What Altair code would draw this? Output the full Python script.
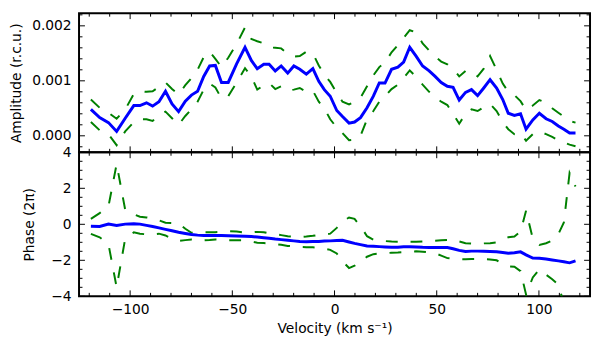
import altair as alt
import pandas as pd

# Velocity grid (km/s)
velocity = [-119.2, -114.9, -110.6, -106.6, -102.4, -98.2, -95.2, -92.0, -89.0, -85.9,
            -82.7, -79.5, -76.3, -73.0, -70.0, -67.0, -64.0, -61.1, -58.3, -55.3,
            -52.0, -47.9, -43.8, -40.7, -37.8, -34.6, -32.0, -29.0, -26.1, -22.9,
            -19.9, -17.0, -13.8, -10.6, -7.7, -5.0, -2.1, 1.1, 3.9, 7.1,
            9.8, 12.7, 15.9, 19.0, 21.9, 24.7, 27.9, 31.0, 33.8, 36.8,
            39.9, 43.1, 46.3, 49.2, 52.2, 55.2, 58.0, 61.0, 64.1, 67.0,
            70.0, 73.0, 76.1, 79.3, 82.3, 85.0, 88.0, 91.0, 93.7, 97.0,
            100.2, 103.5, 106.5, 109.5, 112.2, 115.0, 117.9]

# Amplitude in units of 1e-3 r.c.u.
amplitude_milli = [0.48, 0.33, 0.24, 0.08, 0.32, 0.55, 0.55, 0.60, 0.54, 0.62,
                   0.81, 0.58, 0.44, 0.63, 0.74, 0.81, 1.08, 1.27, 1.28, 0.97,
                   0.97, 1.31, 1.61, 1.37, 1.22, 1.30, 1.30, 1.18, 1.27, 1.14,
                   1.27, 1.21, 1.12, 1.22, 0.99, 0.84, 0.72, 0.46, 0.35, 0.23,
                   0.25, 0.33, 0.51, 0.72, 0.96, 0.96, 1.21, 1.25, 1.34, 1.61,
                   1.45, 1.27, 1.18, 1.08, 0.97, 0.90, 0.88, 0.65, 0.79, 0.84,
                   0.73, 0.87, 1.02, 0.87, 0.66, 0.41, 0.37, 0.40, 0.12, 0.29,
                   0.41, 0.31, 0.26, 0.18, 0.12, 0.05, 0.05]
amplitude_upper_milli = [0.66, 0.51, 0.42, 0.31, 0.48, 0.76, 0.81, 0.80, 0.81, 0.89,
                         0.97, 0.85, 0.75, 0.92, 1.05, 1.20, 1.43, 1.53, 1.40, 1.25,
                         1.42, 1.67, 1.97, 1.76, 1.72, 1.68, 1.61, 1.60, 1.59, 1.49,
                         1.44, 1.45, 1.53, 1.50, 1.28, 1.11, 0.98, 0.78, 0.62, 0.57,
                         0.62, 0.69, 0.90, 1.10, 1.25, 1.33, 1.52, 1.65, 1.78, 1.92,
                         1.88, 1.68, 1.55, 1.44, 1.35, 1.30, 1.22, 1.08, 1.18, 1.18,
                         1.08, 1.22, 1.45, 1.20, 0.95, 0.80, 0.74, 0.63, 0.47, 0.55,
                         0.65, 0.60, 0.50, 0.42, 0.35, 0.27, 0.24]
amplitude_lower_milli = [0.25, 0.10, 0.03, -0.17, 0.08, 0.25, 0.30, 0.30, 0.27, 0.38,
                         0.44, 0.32, 0.20, 0.36, 0.48, 0.62, 0.84, 0.95, 0.88, 0.68,
                         0.72, 0.97, 1.23, 1.08, 0.84, 0.92, 0.96, 0.85, 0.90, 0.82,
                         0.84, 0.87, 0.80, 0.82, 0.62, 0.50, 0.30, 0.15, 0.05, -0.08,
                         -0.07, 0.00, 0.30, 0.45, 0.62, 0.72, 0.85, 0.93, 1.05, 1.19,
                         1.07, 0.93, 0.80, 0.70, 0.62, 0.56, 0.40, 0.22, 0.40, 0.48,
                         0.45, 0.52, 0.58, 0.45, 0.25, 0.12, 0.03, 0.05, -0.09, 0.03,
                         0.08, 0.03, -0.02, -0.08, -0.12, -0.16, -0.19]

# Phase in units of 2*pi
phase = [-0.11, -0.12, 0.01, -0.06, 0.01, 0.03, 0.01, -0.06, -0.12, -0.20,
         -0.28, -0.36, -0.44, -0.51, -0.57, -0.60, -0.62, -0.62, -0.62, -0.62,
         -0.63, -0.65, -0.66, -0.68, -0.71, -0.75, -0.78, -0.82, -0.85, -0.89,
         -0.92, -0.95, -0.97, -0.96, -0.95, -0.93, -0.92, -0.90, -0.89, -0.98,
         -1.06, -1.13, -1.20, -1.22, -1.24, -1.26, -1.28, -1.27, -1.25, -1.25,
         -1.26, -1.28, -1.29, -1.29, -1.29, -1.29, -1.36, -1.45, -1.51, -1.49,
         -1.49, -1.50, -1.51, -1.53, -1.57, -1.61, -1.58, -1.53, -1.70, -1.88,
         -1.89, -1.93, -1.98, -2.03, -2.08, -2.14, -2.03]
phase_upper = [0.30, 0.62, 1.00, 3.35, 0.80, 0.55, 0.42, 0.38, 0.33, 0.22,
               0.09, 0.07, 0.06, -0.25, -0.47, -0.46, -0.44, -0.44, -0.44, -0.42,
               -0.38, -0.40, -0.46, -0.45, -0.42, -0.44, -0.50, -0.55, -0.60, -0.66,
               -0.69, -0.71, -0.68, -0.64, -0.59, -0.56, -0.52, -0.20, 0.15, 0.38,
               0.30, -0.10, -0.66, -0.85, -0.90, -0.93, -0.96, -0.97, -0.97, -0.97,
               -0.97, -0.95, -0.93, -0.91, -0.89, -0.87, -0.84, -0.95, -1.05, -1.07,
               -1.07, -1.06, -1.05, -1.01, -0.85, -0.72, -0.68, -0.40, 0.75, -0.80,
               -1.15, -1.05, -0.90, -0.55, 0.10, 2.85, 2.10]
phase_lower = [-0.53, -0.72, -1.10, -3.50, -0.78, -0.45, -0.52, -0.56, -0.56, -0.52,
               -0.62, -0.80, -0.93, -0.88, -0.84, -0.86, -0.89, -0.87, -0.84, -0.86,
               -0.89, -0.89, -0.89, -0.95, -1.02, -1.04, -1.06, -1.10, -1.14, -1.20,
               -1.23, -1.26, -1.27, -1.28, -1.30, -1.35, -1.42, -1.62, -2.05, -2.43,
               -2.30, -2.07, -1.80, -1.66, -1.62, -1.60, -1.58, -1.57, -1.55, -1.52,
               -1.50, -1.52, -1.56, -1.60, -1.74, -1.88, -1.90, -1.93, -1.94, -1.93,
               -1.93, -1.94, -1.95, -2.00, -2.20, -2.33, -2.36, -2.60, -3.90, -2.95,
               -2.50, -2.80, -3.05, -3.35, -4.40, -7.10, -6.20]

# Axis ticks
x_major = [-100, -50, 0, 50, 100]
x_minor = [-120, -110, -90, -80, -70, -60, -40, -30, -20, -10,
           10, 20, 30, 40, 60, 70, 80, 90, 110, 120]
amp_major = [0.0, 0.001, 0.002]
amp_minor = [-0.0002, 0.0002, 0.0004, 0.0006, 0.0008, 0.0012, 0.0014, 0.0016, 0.0018, 0.0022]
phase_major = [-4, -2, 0, 2, 4]
phase_minor = [-3.5, -3, -2.5, -1.5, -1, -0.5, 0.5, 1, 1.5, 2.5, 3, 3.5]

W = 518
FONT = "DejaVu Sans"
BLUE = "#0000ff"
GREEN = "#008000"
MAJ = 6
MIN = 3.5

xs = alt.Scale(domain=[-125, 125], nice=False, zero=False)


def panel(values, upper, lower, domain, ymajor, yminor, fmt, title, H, show_x, title_pad):
    df = pd.DataFrame({"v": velocity, "y": values, "hi": upper, "lo": lower})
    ys = alt.Scale(domain=domain, nice=False, zero=False)
    if show_x:
        xaxis = alt.Axis(values=x_major, format="d", title="Velocity (km s\u207b\u00b9)",
                         ticks=False, domain=False, grid=False, labelOverlap=False,
                         labelPadding=6, titlePadding=6)
    else:
        xaxis = None
    yaxis = alt.Axis(values=ymajor, format=fmt, title=title, ticks=False, domain=False,
                     grid=False, labelOverlap=False, labelPadding=8, titlePadding=title_pad)

    def X(field):
        return alt.X(field, scale=xs, axis=xaxis)

    def Y(field):
        return alt.Y(field, scale=ys, axis=yaxis)

    layers = []
    base = alt.Chart(df)
    for col in ("hi", "lo"):
        layers.append(base.mark_line(color=GREEN, strokeWidth=2, strokeDash=[12, 13], clip=True)
                      .encode(x=X("v:Q"), y=Y(col + ":Q")))
    for vals, ln in ((x_major, MAJ), (x_minor, MIN)):
        c = alt.Chart(pd.DataFrame({"t": vals}))
        layers.append(c.mark_rule(color="black", strokeWidth=1).encode(
            x=X("t:Q"), y=alt.value(H), y2=alt.value(H - ln)))
        layers.append(c.mark_rule(color="black", strokeWidth=1).encode(
            x=X("t:Q"), y=alt.value(0), y2=alt.value(ln)))
    for vals, ln in ((ymajor, MAJ), (yminor, MIN)):
        c = alt.Chart(pd.DataFrame({"t": vals}))
        layers.append(c.mark_rule(color="black", strokeWidth=1).encode(
            y=Y("t:Q"), x=alt.value(0), x2=alt.value(ln)))
        layers.append(c.mark_rule(color="black", strokeWidth=1).encode(
            y=Y("t:Q"), x=alt.value(W), x2=alt.value(W - ln)))
    layers.append(base.mark_line(color=BLUE, strokeWidth=3, clip=True).encode(
        x=X("v:Q"), y=Y("y:Q")))
    return alt.layer(*layers).properties(width=W, height=H)


top = panel([a * 1e-3 for a in amplitude_milli],
            [a * 1e-3 for a in amplitude_upper_milli],
            [a * 1e-3 for a in amplitude_lower_milli],
            [-0.0003, 0.00223], amp_major, amp_minor, ".3f", "Amplitude (r.c.u.)",
            141, False, 8)
bottom = panel(phase, phase_upper, phase_lower, [-4, 4], phase_major, phase_minor, "d",
               "Phase (2\u03c0)", 146, True, 14)

chart = alt.vconcat(top, bottom, spacing=0, bounds="flush").properties(
    padding={"left": 0, "top": 1, "right": 0, "bottom": 0}
).configure_view(
    stroke="black", strokeWidth=2
).configure_axis(
    labelFont=FONT, labelFontSize=14, titleFont=FONT, titleFontSize=14,
    titleFontWeight="normal", labelColor="black", titleColor="black",
    labelOverlap=False, labelFlush=False
)

chart.save("out.html", embed_options={"renderer": "svg", "actions": False})
